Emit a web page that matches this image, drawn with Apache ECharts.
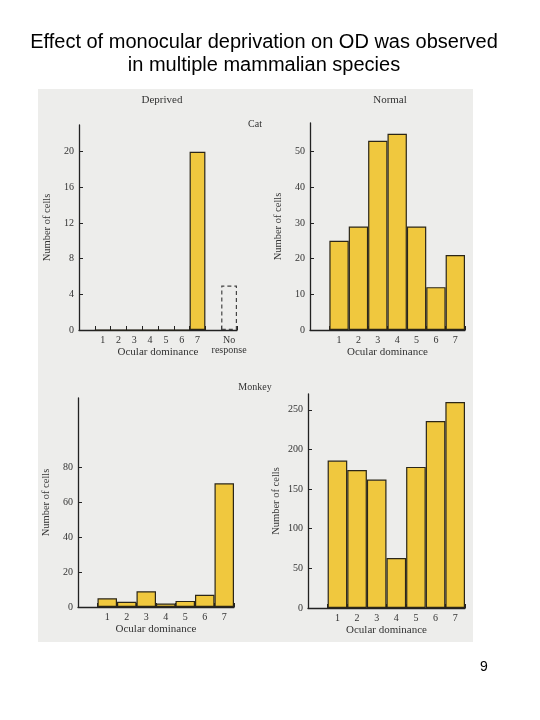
<!DOCTYPE html>
<html>
<head>
<meta charset="utf-8">
<script src="https://cdn.jsdelivr.net/npm/echarts@6/dist/echarts.min.js"></script>
<style>
html,body{margin:0;padding:0;background:#fff;}
#c{width:540px;height:720px;}
</style>
</head>
<body>
<div id="c"></div>
<script>
// ---- data ----
var odCategories = ['1','2','3','4','5','6','7'];
var catDeprived = [0, 0, 0, 0, 0, 0, 20];
var catDeprivedNoResponse = 5;
var catNormal = [25, 29, 53, 55, 29, 12, 21];
var monkeyDeprived = [5, 3, 9, 2, 3.5, 7, 71];
var monkeyNormal = [186, 174, 162, 63, 178, 236, 260];
var catDeprivedTicks = [0, 4, 8, 12, 16, 20];
var catNormalTicks = [0, 10, 20, 30, 40, 50];
var monkeyDeprivedTicks = [0, 20, 40, 60, 80];
var monkeyNormalTicks = [0, 50, 100, 150, 200, 250];
var titleLines = ['Effect of monocular deprivation on OD was observed', 'in multiple mammalian species'];

// ---- styles ----
var SERIF = '"Liberation Serif", "DejaVu Serif", serif';
var TXT = '#333';
var AX = '#222';
var BAR = '#f0c83e';
var EDGE = '#2b2618';

var chart = echarts.init(document.getElementById('c'), null, {renderer: 'canvas'});

var grids = [
  {left: 79, top: 125, width: 158, height: 205},
  {left: 310, top: 123, width: 155, height: 207},
  {left: 78, top: 398, width: 156, height: 209},
  {left: 308, top: 394, width: 157, height: 214}
];

function xAx(idx, cats) {
  return {
    type: 'category', gridIndex: idx, data: cats,
    boundaryGap: true,
    axisLine: {lineStyle: {color: AX, width: 1.3}},
    axisTick: {show: true, inside: true, length: 4, lineStyle: {color: AX}},
    axisLabel: {color: TXT, fontFamily: SERIF, fontSize: 10, margin: 5, interval: 0, lineHeight: 10},
    name: 'Ocular dominance', nameLocation: 'middle', nameGap: 17, nameMoveOverlap: false,
    nameTextStyle: {color: TXT, fontFamily: SERIF, fontSize: 11}
  };
}
function yAx(idx, max, ticks) {
  return {
    type: 'value', gridIndex: idx, min: 0, max: max,
    splitLine: {show: false},
    axisLine: {show: true, lineStyle: {color: AX, width: 1.3}},
    axisTick: {show: true, inside: true, length: 4, customValues: ticks, lineStyle: {color: AX}},
    axisLabel: {color: TXT, fontFamily: SERIF, fontSize: 10, margin: 5, customValues: ticks},
    name: 'Number of cells', nameLocation: 'middle', nameGap: 26, nameMoveOverlap: false,
    nameTextStyle: {color: TXT, fontFamily: SERIF, fontSize: 10.5}
  };
}

var cats1 = [''].concat(odCategories).concat(['', 'No\nresponse']);
var cats = [''].concat(odCategories);

function pad(vals) { return [null].concat(vals); }

var barStyle = {color: BAR, borderColor: EDGE, borderWidth: 1.2};

var noResp = [];
for (var i = 0; i < cats1.length; i++) noResp.push(null);
noResp[cats1.length - 1] = catDeprivedNoResponse;

var option = {
  animation: false,
  backgroundColor: '#fff',
  graphic: [
    {type: 'text', x: 264, y: 43, style: {text: titleLines.join('\n'), fill: '#000', font: '20px "Liberation Sans", Arial, sans-serif', lineHeight: 23, textAlign: 'center', textVerticalAlign: 'top', y: -12}},
    {type: 'rect', shape: {x: 38, y: 89, width: 435, height: 553}, style: {fill: '#ededeb'}, z: -10, silent: true},
    {type: 'text', x: 162, y: 100, style: {text: 'Deprived', fill: TXT, font: '11px ' + SERIF, textAlign: 'center', textVerticalAlign: 'middle'}},
    {type: 'text', x: 390, y: 100, style: {text: 'Normal', fill: TXT, font: '11px ' + SERIF, textAlign: 'center', textVerticalAlign: 'middle'}},
    {type: 'text', x: 255, y: 124, style: {text: 'Cat', fill: TXT, font: '10px ' + SERIF, textAlign: 'center', textVerticalAlign: 'middle'}},
    {type: 'text', x: 255, y: 387, style: {text: 'Monkey', fill: TXT, font: '10px ' + SERIF, textAlign: 'center', textVerticalAlign: 'middle'}},
    {type: 'text', x: 484, y: 667, style: {text: '9', fill: '#000', font: '14px "Liberation Sans", Arial, sans-serif', textAlign: 'center', textVerticalAlign: 'middle'}}
  ],
  grid: grids,
  xAxis: [xAx(0, cats1), xAx(1, cats), xAx(2, cats), xAx(3, cats)],
  yAxis: [yAx(0, 23, catDeprivedTicks), yAx(1, 58, catNormalTicks), yAx(2, 120, monkeyDeprivedTicks), yAx(3, 270, monkeyNormalTicks)],
  series: [
    {type: 'bar', xAxisIndex: 0, yAxisIndex: 0, data: pad(catDeprived).concat([null, null]), barCategoryGap: '0%', barGap: '-100%', itemStyle: barStyle},
    {type: 'bar', xAxisIndex: 0, yAxisIndex: 0, data: noResp, barCategoryGap: '0%', barGap: '-100%',
      itemStyle: {color: 'rgba(0,0,0,0)', borderColor: '#444', borderWidth: 1.2, borderType: [4, 3]}},
    {type: 'bar', xAxisIndex: 1, yAxisIndex: 1, data: pad(catNormal), barCategoryGap: '0%', itemStyle: barStyle},
    {type: 'bar', xAxisIndex: 2, yAxisIndex: 2, data: pad(monkeyDeprived), barCategoryGap: '0%', itemStyle: barStyle},
    {type: 'bar', xAxisIndex: 3, yAxisIndex: 3, data: pad(monkeyNormal), barCategoryGap: '0%', itemStyle: barStyle}
  ]
};
chart.setOption(option);
</script>
</body>
</html>
